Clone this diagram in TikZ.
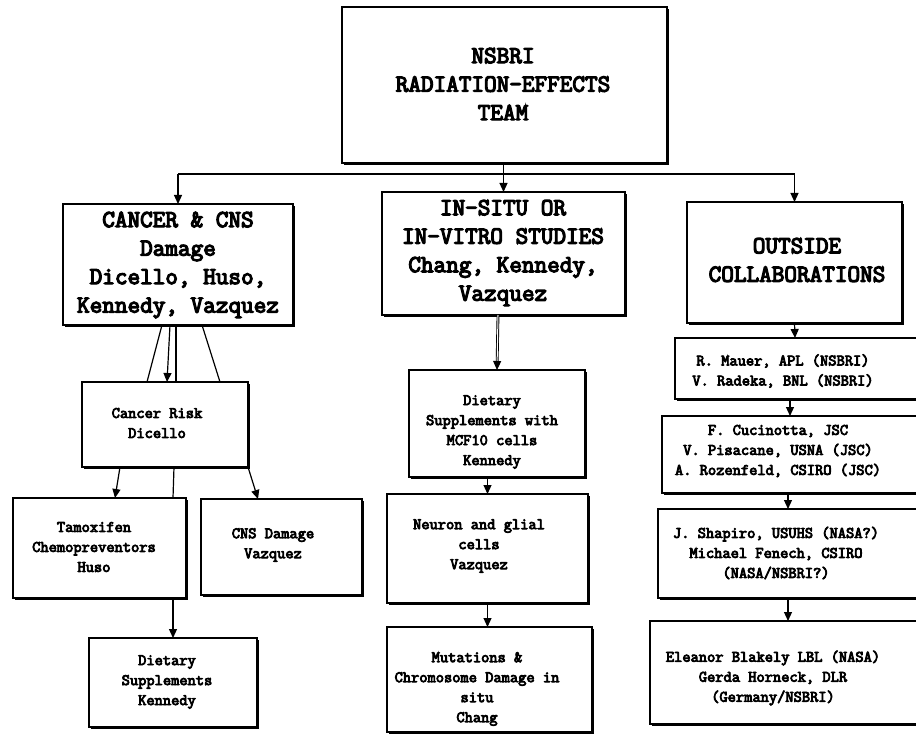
\documentclass[tikz,border=0pt]{standalone}
\usepackage{fontspec}
\newfontfamily\courfont{Latin Modern Mono}[FakeBold=5]
\usetikzlibrary{arrows.meta,shadows}
\begin{document}
\begin{tikzpicture}[x=1pt,y=-1pt,
  box/.style={draw, line width=1.2pt, fill=white, inner sep=0pt, outer sep=0pt,
    drop shadow={shadow xshift=2pt, shadow yshift=-2pt, fill=black, opacity=1}},
  big/.style={font=\courfont\fontsize{24.5}{28.5}\selectfont, align=center, inner sep=0pt},
  small/.style={font=\courfont\fontsize{16}{20}\selectfont, align=center, inner sep=0pt},
  conn/.style={line width=1.2pt},
  arr/.style={conn, -{Triangle[length=9pt,width=8pt]}}]
\useasboundingbox (0,0) rectangle (916,735);
\clip (0,0) rectangle (916,735);
\fill[white] (0,0) rectangle (916,735);

% boxes
\node[box, minimum width=325pt, minimum height=156pt] (top) at (504.5,85) {};
\node[box, minimum width=230pt, minimum height=121pt] (cancer) at (178,264.5) {};
\node[box, minimum width=243pt, minimum height=123pt] (insitu) at (503.5,253.5) {};
\node[box, minimum width=215pt, minimum height=121pt] (outside) at (794.5,262.5) {};
\node[box, minimum width=166pt, minimum height=85pt] (risk) at (165,424.5) {};
\node[box, minimum width=173pt, minimum height=100pt] (tamox) at (99.5,548) {};
\node[box, minimum width=161pt, minimum height=96pt] (cns) at (281.5,547) {};
\node[box, minimum width=168pt, minimum height=89pt] (dietk) at (173,682.5) {};
\node[box, minimum width=176pt, minimum height=107pt] (mcf) at (497,423.5) {};
\node[box, minimum width=201pt, minimum height=109pt] (neuron) at (487.5,548.5) {};
\node[box, minimum width=205pt, minimum height=105pt] (mut) at (489.5,679.5) {};
\node[box, minimum width=255pt, minimum height=61pt] (mauer) at (802.5,368.5) {};
\node[box, minimum width=268pt, minimum height=77pt] (cuci) at (796,454.5) {};
\node[box, minimum width=272pt, minimum height=89pt] (shapiro) at (794,553.5) {};
\node[box, minimum width=280pt, minimum height=103pt] (eleanor) at (790,672.5) {};

% texts
\node[big] (topt) at (503,84) {NSBRI\\RADIATION-EFFECTS\\TEAM};
\node[big] (cancert) at (178,265) {CANCER \& CNS\\Damage\\Dicello, Huso,\\Kennedy, Vazquez};
\node[big] (insitut) at (503,253) {IN-SITU OR\\IN-VITRO STUDIES\\Chang, Kennedy,\\Vazquez};
\node[big] (outsidet) at (797,260) {OUTSIDE\\COLLABORATIONS};
\node[small] (riskt) at (157,423) {Cancer Risk\\Dicello};
\node[small] (tamoxt) at (94,547) {Tamoxifen\\Chemopreventors\\Huso};
\node[small] (cnst) at (273,545) {CNS Damage\\Vazquez};
\node[small] (dietkt) at (167,682) {Dietary\\Supplements\\Kennedy};
\node[small] (mcft) at (492,432) {Dietary\\Supplements with\\MCF10 cells\\Kennedy};
\node[small] (neuront) at (479,546) {Neuron and glial\\cells\\Vazquez};
\node[small] (mutt) at (477,689) {Mutations \&\\Chromosome Damage in\\situ\\Chang};
\node[small] (mauert) at (783,371) {R. Mauer, APL (NSBRI)\\V. Radeka, BNL (NSBRI)};
\node[small] (cucit) at (778,451) {F. Cucinotta, JSC\\V. Pisacane, USNA (JSC)\\A. Rozenfeld, CSIRO (JSC)};
\node[small] (shapirot) at (776,553) {J. Shapiro, USUHS (NASA?)\\Michael Fenech, CSIRO\\(NASA/NSBRI?)};
\node[small] (eleanort) at (773,678) {Eleanor Blakely LBL (NASA)\\Gerda Horneck, DLR\\(Germany/NSBRI)};

% connectors
\coordinate (hl) at (178,174);
\coordinate (hr) at (794.5,174);
\draw[conn] (hl) -- (hr);
\draw[arr] (insitu.north |- top.south) -- (insitu.north);
\draw[arr] (hl) -- (cancer.north);
\draw[arr] (hr) -- (outside.north);

\draw[conn] ([xshift=-16pt]cancer.south) -- ([xshift=-18pt]risk.north);
\draw[arr] ([xshift=-8pt]cancer.south) -- ([xshift=2pt]risk.north);
\draw[conn] ([xshift=-2pt]cancer.south) -- ([xshift=11pt]risk.north);
\draw[conn] ([xshift=9pt]risk.south) -- ([xshift=73.5pt]tamox.north);
\draw[conn] ([xshift=24pt]cancer.south) -- ([xshift=55pt]risk.north);
\draw[arr] ([xshift=-45pt]risk.south) -- ([xshift=15.5pt]tamox.north);
\draw[arr] (risk.south east) -- ([xshift=-23.5pt]cns.north);
\draw[arr] (dietk.north |- tamox.south) -- (dietk.north);

\draw[arr, double, double distance=1pt, line width=0.9pt] ([xshift=-5.5pt]insitu.south) -- (mcf.north);
\draw[arr] (neuron.north |- mcf.south) -- (neuron.north);
\draw[arr] (neuron.south) -- (neuron.south |- mut.north);

\draw[arr] (outside.south) -- ([xshift=-7.5pt]mauer.north);
\draw[arr] ([xshift=-12.5pt]mauer.south) -- ([xshift=-6pt]cuci.north);
\draw[arr] ([xshift=-8pt]cuci.south) -- ([xshift=-6pt]shapiro.north);
\draw[arr] ([xshift=-6pt]shapiro.south) -- ([xshift=-2pt]eleanor.north);
\end{tikzpicture}
\end{document}
